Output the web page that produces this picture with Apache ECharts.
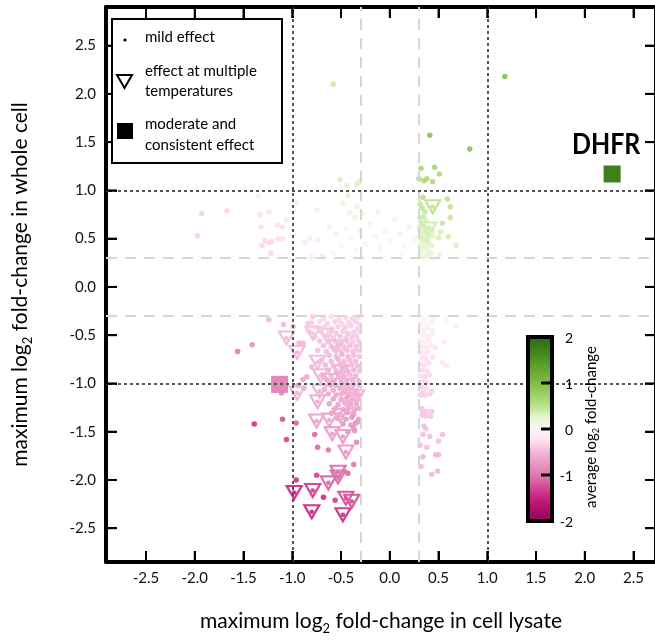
<!DOCTYPE html>
<html lang="en">
<head>
<meta charset="UTF-8">
<title>maximum log2 fold-change</title>
<script src="https://cdn.jsdelivr.net/npm/echarts@6/dist/echarts.min.js"></script>
<style>
    html, body { margin: 0; padding: 0; background: #fff; }
    #main { width: 655px; height: 641px; }
</style>
</head>
<body>
<div id="main"></div>
<script>
// every point: [lysate max log2 FC, whole cell max log2 FC, average log2 FC]
var pinkCloud = [
    [-0.68,-0.33,-0.3],[-0.6,-0.31,-0.3],[-0.52,-0.34,-0.32],[-0.45,-0.32,-0.3],[-0.38,-0.33,-0.32],[-0.32,-0.31,-0.3],
    [-0.8,-0.37,-0.35],[-0.72,-0.36,-0.33],[-0.64,-0.38,-0.35],[-0.56,-0.36,-0.35],[-0.49,-0.38,-0.33],[-0.42,-0.37,-0.35],[-0.35,-0.36,-0.35],[-0.31,-0.39,-0.33],
    [-0.75,-0.42,-0.37],[-0.67,-0.41,-0.35],[-0.6,-0.43,-0.37],[-0.53,-0.41,-0.35],[-0.46,-0.42,-0.37],[-0.4,-0.4,-0.35],[-0.33,-0.43,-0.35],
    [-0.83,-0.46,-0.4],[-0.7,-0.47,-0.38],[-0.62,-0.46,-0.37],[-0.55,-0.48,-0.4],[-0.48,-0.46,-0.38],[-0.43,-0.48,-0.4],[-0.37,-0.47,-0.37],[-0.31,-0.46,-0.35],
    [-0.77,-0.52,-0.41],[-0.66,-0.51,-0.4],[-0.58,-0.53,-0.41],[-0.51,-0.51,-0.43],[-0.45,-0.53,-0.4],[-0.39,-0.52,-0.41],[-0.34,-0.51,-0.38],
    [-0.72,-0.56,-0.43],[-0.63,-0.57,-0.41],[-0.56,-0.56,-0.45],[-0.5,-0.58,-0.43],[-0.44,-0.56,-0.45],[-0.38,-0.57,-0.41],[-0.32,-0.56,-0.4],
    [-0.68,-0.61,-0.45],[-0.6,-0.62,-0.43],[-0.53,-0.6,-0.47],[-0.47,-0.62,-0.45],[-0.41,-0.61,-0.47],[-0.35,-0.62,-0.43],[-0.31,-0.6,-0.41],
    [-0.74,-0.66,-0.47],[-0.65,-0.67,-0.45],[-0.57,-0.65,-0.49],[-0.5,-0.67,-0.47],[-0.44,-0.66,-0.49],[-0.38,-0.67,-0.45],[-0.33,-0.66,-0.43],
    [-0.62,-0.71,-0.49],[-0.55,-0.72,-0.47],[-0.49,-0.7,-0.51],[-0.43,-0.72,-0.49],[-0.37,-0.71,-0.47],[-0.31,-0.72,-0.45],
    [-0.7,-0.76,-0.51],[-0.6,-0.77,-0.49],[-0.53,-0.75,-0.53],[-0.47,-0.77,-0.51],[-0.41,-0.76,-0.49],[-0.35,-0.77,-0.47],
    [-0.66,-0.81,-0.53],[-0.58,-0.82,-0.51],[-0.51,-0.8,-0.55],[-0.45,-0.82,-0.53],[-0.39,-0.81,-0.51],[-0.33,-0.82,-0.49],
    [-0.63,-0.86,-0.55],[-0.55,-0.87,-0.53],[-0.49,-0.85,-0.57],[-0.43,-0.87,-0.55],[-0.37,-0.86,-0.53],[-0.31,-0.87,-0.5],
    [-0.69,-0.91,-0.57],[-0.6,-0.92,-0.55],[-0.53,-0.9,-0.59],[-0.47,-0.92,-0.57],[-0.41,-0.91,-0.55],[-0.35,-0.92,-0.53],
    [-0.65,-0.96,-0.59],[-0.57,-0.97,-0.57],[-0.5,-0.95,-0.61],[-0.44,-0.97,-0.59],[-0.38,-0.96,-0.57],[-0.32,-0.97,-0.55],
    [-0.62,-1.01,-0.6],[-0.55,-1.02,-0.59],[-0.49,-1.0,-0.63],[-0.43,-1.02,-0.61],[-0.37,-1.01,-0.59],[-0.31,-1.02,-0.55],
    [-0.67,-1.06,-0.63],[-0.58,-1.07,-0.61],[-0.51,-1.05,-0.65],[-0.45,-1.07,-0.63],[-0.39,-1.06,-0.61],[-0.34,-1.07,-0.59],
    [-0.63,-1.11,-0.65],[-0.55,-1.12,-0.63],[-0.48,-1.1,-0.67],[-0.42,-1.12,-0.65],[-0.36,-1.11,-0.63],[-0.31,-1.12,-0.6],
    [-0.58,-1.16,-0.67],[-0.5,-1.17,-0.65],[-0.44,-1.15,-0.69],[-0.38,-1.17,-0.67],[-0.33,-1.16,-0.63],
    [-0.62,-1.21,-0.69],[-0.53,-1.22,-0.67],[-0.46,-1.2,-0.71],[-0.4,-1.22,-0.69],[-0.34,-1.21,-0.65],
    [-0.56,-1.26,-0.71],[-0.48,-1.27,-0.69],[-0.42,-1.25,-0.73],[-0.36,-1.27,-0.71],[-0.31,-1.26,-0.67],
    [-0.6,-1.31,-0.73],[-0.51,-1.32,-0.71],[-0.44,-1.3,-0.75],[-0.37,-1.32,-0.73],
    [-0.54,-1.36,-0.75],[-0.45,-1.37,-0.73],[-0.39,-1.35,-0.77],[-0.32,-1.37,-0.75],
    [-0.48,-1.42,-0.77],[-0.4,-1.43,-0.75],[-0.35,-1.41,-0.79],
    [-0.43,-1.5,-0.8],[-0.36,-1.49,-0.77]
];
var pinkSparse = [
    [-1.24,-0.34,-0.5],[-1.09,-0.39,-0.5],[-0.99,-0.41,-0.5],[-1.41,-0.6,-0.8],[-1.56,-0.67,-1.0],
    [-0.84,-0.38,-0.4],[-0.79,-0.31,-0.4],[-0.89,-0.58,-0.5],[-0.93,-0.58,-0.5],[-0.8,-0.83,-0.5],
    [-0.89,-0.96,-0.6],[-0.85,-0.93,-0.6],[-0.88,-1.05,-0.6],[-0.94,-1.02,-0.7],[-1.11,-1.1,-0.9],
    [-1.1,-1.37,-1.2],[-1.39,-1.42,-1.4],[-0.96,-1.41,-1.1],[-1.06,-1.58,-1.3],
    [-0.77,-1.53,-1.1],[-0.74,-1.66,-1.1],[-0.63,-1.69,-1.0],[-0.34,-1.61,-0.9],[-0.33,-1.4,-0.7],[-0.37,-1.46,-0.8],
    [-0.37,-1.84,-1.0],[-0.43,-1.93,-1.1],[-0.96,-2.0,-1.4],[-0.75,-1.95,-1.3],[-0.68,-2.18,-1.4],[-0.56,-2.21,-1.3]
];
var pinkUpper = [
    [-1.93,0.76,-0.35],[-1.67,0.79,-0.3],[-1.97,0.53,-0.35],[-1.35,0.94,-0.15],[-1.33,0.75,-0.25],[-1.24,0.78,-0.25],
    [-1.32,0.62,-0.25],[-1.15,0.64,-0.25],[-1.1,0.62,-0.25],[-1.06,0.69,-0.2],[-1.28,0.48,-0.3],[-1.24,0.46,-0.3],
    [-1.21,0.47,-0.3],[-1.31,0.43,-0.3],[-1.22,0.35,-0.3],[-1.15,0.5,-0.25],[-1.1,0.5,-0.25],[-0.96,0.87,-0.1]
];
var faintUpper = [
    [-0.51,1.11,0.3],[-0.44,1.05,0.28],[-0.34,1.06,0.28],[-0.31,1.09,0.3],[-0.43,0.95,0.22],[-0.48,0.87,0.18],
    [-0.34,0.83,0.18],[-0.41,0.77,0.15],[-0.36,0.72,0.12],[-0.58,2.1,0.4],
    [-0.87,0.46,-0.15],[-0.82,0.5,-0.15],[-0.74,0.48,-0.12],[-0.8,0.31,-0.15],[-0.69,0.32,-0.12],[-0.75,0.8,-0.1],
    [-0.62,0.62,-0.05],[-0.55,0.55,-0.03],[-0.5,0.42,0.0],[-0.45,0.6,0.05],[-0.4,0.5,0.03],[-0.35,0.38,0.02],
    [-0.3,0.58,0.05],[-0.25,0.45,0.03],[-0.2,0.65,0.06],[-0.15,0.52,0.04],[-0.1,0.4,0.02],[-0.05,0.58,0.05],
    [0.0,0.47,0.03],[0.05,0.7,0.08],[0.1,0.55,0.06],[0.15,0.42,0.04],[0.2,0.62,0.08],[0.25,0.5,0.1],
    [-0.58,0.35,-0.02],[-0.28,0.75,0.08],[-0.12,0.78,0.1],[0.12,0.35,0.03]
];
var paleRight = [
    [0.31,-0.32,0.0],[0.35,-0.33,0.02],[0.4,-0.31,0.0],[0.45,-0.34,-0.02],
    [0.32,-0.38,-0.05],[0.37,-0.39,-0.03],[0.42,-0.37,-0.05],
    [0.31,-0.44,-0.08],[0.35,-0.45,-0.1],[0.39,-0.43,-0.08],[0.44,-0.45,-0.1],
    [0.33,-0.5,-0.12],[0.38,-0.51,-0.1],[0.43,-0.49,-0.12],
    [0.31,-0.56,-0.15],[0.35,-0.57,-0.15],[0.4,-0.55,-0.14],
    [0.32,-0.62,-0.18],[0.37,-0.63,-0.2],[0.42,-0.61,-0.18],[0.47,-0.63,-0.2],
    [0.31,-0.68,-0.22],[0.35,-0.69,-0.2],[0.39,-0.67,-0.22],
    [0.33,-0.74,-0.25],[0.37,-0.75,-0.24],[0.44,-0.73,-0.25],
    [0.31,-0.8,-0.26],[0.35,-0.81,-0.28],[0.4,-0.79,-0.26],
    [0.33,-0.86,-0.3],[0.38,-0.87,-0.28],
    [0.31,-0.92,-0.3],[0.36,-0.93,-0.32],[0.41,-0.91,-0.3],
    [0.33,-0.98,-0.32],[0.38,-0.99,-0.3],[0.32,-1.04,-0.34],[0.37,-1.05,-0.32],
    [0.58,-0.35,-0.05],[0.68,-0.41,-0.05],[0.56,-0.57,-0.15],[0.54,-0.78,-0.2],[0.58,-0.82,-0.2],
    [0.43,-1.08,-0.35],[0.34,-1.1,-0.35],[0.31,-1.12,-0.35],[0.36,-1.12,-0.35],[0.41,-1.11,-0.35],
    [0.34,-1.3,-0.4],[0.38,-1.29,-0.4],[0.43,-1.29,-0.4],[0.42,-1.34,-0.4],[0.33,-1.33,-0.4],[0.37,-1.34,-0.4],
    [0.33,-1.26,-0.4],[0.35,-1.44,-0.45],[0.37,-1.47,-0.45],[0.34,-1.53,-0.45],[0.41,-1.55,-0.45],[0.54,-1.53,-0.45],
    [0.5,-1.6,-0.45],[0.31,-1.64,-0.45],[0.38,-1.66,-0.45],[0.34,-1.76,-0.5],[0.47,-1.74,-0.5],[0.5,-1.74,-0.5],
    [0.32,-1.86,-0.5],[0.43,-1.94,-0.5],[0.49,-1.91,-0.5]
];
var greenCluster = [
    [0.31,0.32,0.2],[0.35,0.31,0.2],[0.39,0.33,0.22],
    [0.32,0.37,0.2],[0.36,0.38,0.22],[0.41,0.36,0.2],
    [0.31,0.42,0.25],[0.34,0.43,0.24],[0.38,0.41,0.25],[0.43,0.43,0.24],
    [0.32,0.47,0.26],[0.36,0.48,0.25],[0.4,0.46,0.27],
    [0.31,0.52,0.3],[0.35,0.53,0.28],[0.39,0.51,0.3],[0.44,0.53,0.28],
    [0.33,0.57,0.3],[0.37,0.58,0.32],
    [0.31,0.62,0.34],[0.35,0.63,0.33],[0.4,0.61,0.35],
    [0.32,0.67,0.36],[0.37,0.68,0.35],[0.31,0.72,0.38],[0.35,0.73,0.4],
    [0.36,0.78,0.42],[0.33,0.82,0.45],[0.31,0.86,0.45],[0.34,0.93,0.5],[0.59,0.91,0.5],[0.62,0.83,0.45],
    [0.62,0.72,0.42],[0.54,0.66,0.4],[0.52,0.57,0.35],[0.5,0.51,0.33],[0.6,0.52,0.35],[0.68,0.43,0.3],
    [0.51,0.33,0.25],[0.43,0.35,0.25],
    [0.3,1.12,0.6],[0.35,1.1,0.6],[0.38,1.12,0.6],[0.44,1.09,0.6],[0.51,1.17,0.6],[0.32,1.23,0.65],[0.46,1.24,0.65],
    [0.41,1.57,0.9],[0.82,1.43,0.9],[1.18,2.18,0.95]
];
// effect at multiple temperatures
var multiTemp = [
    [-1.06,-0.53,-0.45],[-0.95,-0.68,-0.45],[-0.79,-0.48,-0.4],[-0.65,-0.5,-0.4],[-0.74,-0.78,-0.45],
    [-0.71,-0.92,-0.5],[-0.55,-0.62,-0.45],[-0.5,-0.88,-0.5],[-0.6,-0.97,-0.55],[-0.45,-1.02,-0.5],
    [-0.95,-1.1,-0.5],[-0.72,-1.08,-0.5],[-0.74,-1.19,-0.55],[-0.44,-1.17,-0.55],[-0.34,-1.14,-0.5],
    [-0.4,-1.25,-0.55],[-0.51,-1.33,-0.6],[-0.75,-1.39,-0.6],[-0.62,-1.38,-0.6],[-0.59,-1.52,-0.65],
    [-0.48,-1.55,-0.65],[-0.45,-1.71,-0.7],[-0.53,-1.92,-1.0],[-0.53,-1.97,-1.0],[-0.63,-2.03,-1.05],
    [-0.98,-2.13,-1.35],[-0.79,-2.11,-1.25],[-0.8,-2.33,-1.35],[-0.48,-2.36,-1.3],[-0.45,-2.19,-1.15],
    [-0.39,-2.22,-1.15],
    [0.44,0.83,0.45],[0.4,0.6,0.35],[0.37,0.52,0.3]
];
// moderate and consistent effect
var consistent = [[-1.13,-1.01,-0.85],[2.28,1.17,1.7]];
var dashedGuides = [-0.3, 0.3];
var dottedGuides = [-1, 1];
var xTicks = [-2.5, -2, -1.5, -1, -0.5, 0, 0.5, 1, 1.5, 2, 2.5];
var yTicks = [-2.5, -2, -1.5, -1, -0.5, 0, 0.5, 1, 1.5, 2, 2.5];
var barTicks = [2, 1, 0, -1, -2];
var X_MIN = -2.91, X_MAX = 2.73, Y_MIN = -2.85, Y_MAX = 2.9;

var piygStops = [-2, -1.5, -1, -0.5, -0.25, 0, 0.25, 0.5, 1, 1.5, 2];
var piygColors = ['#8e0152', '#c51b7d', '#de77ae', '#f1b6da', '#fde0ef', '#f7f7f7',
    '#e6f5d0', '#b8e186', '#7fbc41', '#4d9221', '#276419'];

function hexRgb(h) {
    return [parseInt(h.substr(1, 2), 16), parseInt(h.substr(3, 2), 16), parseInt(h.substr(5, 2), 16)];
}
function piyg(v) {
    if (v <= piygStops[0]) return piygColors[0];
    if (v >= 2) return piygColors[piygColors.length - 1];
    for (var i = 0; i < piygStops.length - 1; i++) {
        if (v <= piygStops[i + 1]) {
            var t = (v - piygStops[i]) / (piygStops[i + 1] - piygStops[i]);
            var a = hexRgb(piygColors[i]), b = hexRgb(piygColors[i + 1]);
            return 'rgb(' + [0, 1, 2].map(function (k) {
                return Math.round(a[k] + (b[k] - a[k]) * t);
            }).join(',') + ')';
        }
    }
}

var FONT = 'Lato';
var TICK = 11;
var mild = [].concat(faintUpper, paleRight, pinkUpper, pinkCloud, greenCluster, pinkSparse);

function dots(arr) {
    return arr.map(function (p) {
        return { value: p, itemStyle: { color: piyg(p[2]) } };
    });
}
function triangles(arr) {
    return arr.map(function (p) {
        return { value: p, itemStyle: { color: 'rgba(0,0,0,0)', borderColor: piyg(p[2]), borderWidth: 2.2 } };
    });
}
// only label the half-unit ticks, not the axis ends
function fmt(v) {
    return Math.abs(v * 2 - Math.round(v * 2)) < 1e-6 ? v.toFixed(1) : '';
}

function sub(size, lh) {
    return {
        t: { fontSize: size, lineHeight: lh, fontFamily: FONT, color: '#000', verticalAlign: 'middle' },
        s: { fontSize: Math.round(size * 0.62), lineHeight: Math.round(size * 0.62), fontFamily: FONT, color: '#000', verticalAlign: 'bottom' }
    };
}

function makeAxis(min, max, position, labels) {
    var ax = {
        type: 'value',
        min: min,
        max: max,
        position: position,
        splitNumber: 11,
        minInterval: 0.5,
        maxInterval: 0.5,
        axisLine: { show: true, onZero: false, lineStyle: { color: '#000', width: 4 } },
        splitLine: { show: false },
        axisTick: { show: true, inside: true, length: TICK, lineStyle: { color: '#000', width: 2 } },
        axisLabel: { show: false }
    };
    if (labels) {
        ax.axisLabel = { show: true, fontSize: 15, fontFamily: FONT, color: '#111', margin: 10, formatter: fmt };
    }
    return ax;
}

// inward frame ticks as thin rects sitting on the frame (backup for the axis ticks)
function frameTicks(points, size, offset) {
    return {
        type: 'scatter', z: 6, silent: true, clip: false,
        symbol: 'rect', symbolSize: size, symbolOffset: offset,
        itemStyle: { color: '#000', opacity: 1 },
        data: points
    };
}

var xMain = makeAxis(X_MIN, X_MAX, 'bottom', true);
xMain.axisLabel.margin = 9;
xMain.name = '{t|maximum log}{s|2}{t| fold-change in cell lysate}';
xMain.nameLocation = 'middle';
xMain.nameGap = 45;
xMain.nameTextStyle = { rich: sub(21, 28) };

var yMain = makeAxis(Y_MIN, Y_MAX, 'left', true);
yMain.name = '{t|maximum log}{s|2}{t| fold-change in whole cell}';
yMain.nameLocation = 'middle';
yMain.nameGap = 72;
yMain.nameTextStyle = { rich: sub(21, 28) };

var txt = function (x, y, s, size, align) {
    return { type: 'text', x: x, y: y, z: 11, style: { text: s, fontSize: size, fontFamily: FONT, fill: '#000', align: align || 'left', verticalAlign: 'middle' } };
};

var barTop = 337, barH = 184;
var decorations = [
    // legend box
    { type: 'rect', shape: { x: 112, y: 19, width: 170, height: 144 }, style: { fill: '#fff', stroke: '#000', lineWidth: 2 }, z: 10 },
    { type: 'circle', shape: { cx: 125, cy: 40, r: 1.6 }, style: { fill: '#000' }, z: 11 },
    { type: 'polygon', shape: { points: [[117, 75], [132, 75], [124.5, 88]] }, style: { fill: 'none', stroke: '#000', lineWidth: 2 }, z: 11 },
    { type: 'rect', shape: { x: 117, y: 123, width: 16, height: 16 }, style: { fill: '#000' }, z: 11 },
    txt(145, 37, 'mild effect', 15),
    txt(145, 71, 'effect at multiple', 15),
    txt(145, 91, 'temperatures', 15),
    txt(145, 124, 'moderate and', 15),
    txt(145, 145, 'consistent effect', 15),
    // DHFR label
    { type: 'text', x: 572, y: 145, scaleX: 0.86, style: { text: 'DHFR', fontSize: 29, fontWeight: 'bold', fontFamily: FONT, fill: '#000', verticalAlign: 'middle' }, z: 11 },
    // colour bar
    {
        type: 'rect', shape: { x: 528, y: barTop, width: 24, height: barH }, z: 10,
        style: {
            stroke: '#000', lineWidth: 4,
            fill: new echarts.graphic.LinearGradient(0, 0, 0, 1, piygStops.slice().reverse().map(function (v) {
                return { offset: (2 - v) / 4, color: piyg(v) };
            }))
        }
    },
    {
        type: 'text', x: 591, y: 427, rotation: Math.PI / 2, z: 11,
        style: { text: '{t|average log}{s|2}{t| fold-change}', rich: sub(15, 20), align: 'center', verticalAlign: 'middle' }
    }
];
barTicks.forEach(function (v) {
    var y = barTop + (2 - v) / 4 * barH;
    if (Math.abs(v) < 2) {
        decorations.push({ type: 'line', shape: { x1: 541, y1: y, x2: 552, y2: y }, style: { stroke: '#000', lineWidth: 3 }, z: 11 });
    }
    decorations.push(txt(573, y + 1, String(v), 14, 'right'));
});

var myChart = echarts.init(document.getElementById('main'));
var option = {
    animation: false,
    backgroundColor: '#fff',
    grid: { left: 106, right: -1, top: 7, bottom: 79, outerBoundsMode: 'none' },
    xAxis: [xMain, makeAxis(X_MIN, X_MAX, 'top', false)],
    yAxis: [yMain, makeAxis(Y_MIN, Y_MAX, 'right', false)],
    graphic: decorations,
    series: [
        {
            type: 'scatter', data: [], z: 1, silent: true,
            markLine: {
                silent: true, symbol: 'none', label: { show: false },
                lineStyle: { color: '#d6d6d6', width: 2, type: [11, 8] },
                data: dashedGuides.map(function (v) { return { xAxis: v }; })
                    .concat(dashedGuides.map(function (v) { return { yAxis: v }; }))
            }
        },
        {
            type: 'scatter', z: 2, symbol: 'circle', symbolSize: 5.5,
            itemStyle: { opacity: 0.9 },
            data: dots(mild)
        },
        {
            type: 'scatter', z: 3, symbol: 'triangle', symbolRotate: 180, symbolSize: [15, 13],
            itemStyle: { opacity: 1 },
            data: triangles(multiTemp)
        },
        {
            type: 'scatter', z: 3, symbol: 'circle', symbolSize: 4.5,
            itemStyle: { opacity: 1 },
            data: dots(multiTemp)
        },
        {
            type: 'scatter', z: 4, symbol: 'rect', symbolSize: 17,
            itemStyle: { opacity: 1 },
            data: dots(consistent)
        },
        {
            type: 'scatter', data: [], z: 5, silent: true,
            markLine: {
                silent: true, symbol: 'none', label: { show: false },
                lineStyle: { color: '#555', width: 2, type: [3, 3] },
                data: dottedGuides.map(function (v) { return { xAxis: v }; })
                    .concat(dottedGuides.map(function (v) { return { yAxis: v }; }))
            }
        },
        frameTicks(xTicks.map(function (v) { return [v, Y_MIN]; }), [2, TICK], [0, -TICK / 2]),
        frameTicks(xTicks.map(function (v) { return [v, Y_MAX]; }), [2, TICK], [0, TICK / 2]),
        frameTicks(yTicks.map(function (v) { return [X_MIN, v]; }), [TICK, 2], [TICK / 2, 0]),
        frameTicks(yTicks.map(function (v) { return [X_MAX, v]; }), [TICK, 2], [-TICK / 2, 0])
    ]
};
myChart.setOption(option);
</script>
</body>
</html>
